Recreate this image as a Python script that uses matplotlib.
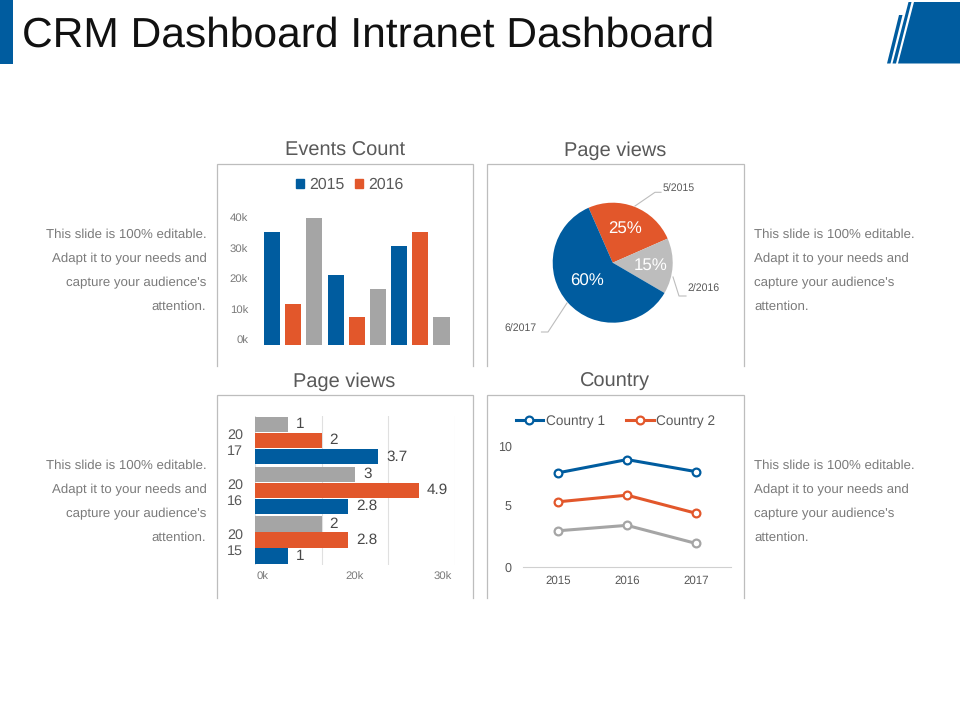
import matplotlib
matplotlib.use("Agg")
import matplotlib.pyplot as plt
from matplotlib.patches import Polygon, Rectangle, Patch
from matplotlib.lines import Line2D

plt.rcParams['font.family'] = ['Liberation Sans', 'DejaVu Sans']
plt.rcParams['text.hinting'] = 'no_hinting'
plt.rcParams['text.hinting_factor'] = 8

BLUE, ORANGE, GREY, LGREY = '#005C9F', '#E2572B', '#A5A5A5', '#BDBDBD'
TXT, TICK = '#595959', '#7A7A7A'

# ---- data ----
main_title = "CRM Dashboard Intranet Dashboard"
side_lines = ["This slide is 100% editable.", "Adapt it to your needs and",
              "capture your audience's", "attention."]

events_series_1 = [35.7, 22.0, 31.3]
events_series_2 = [13.0, 8.8, 35.7]
events_series_3 = [40.0, 17.7, 8.8]
events_legend = ["2015", "2016"]
events_ticks = ["0k", "10k", "20k", "30k", "40k"]

pie_labels = ["5/2015", "2/2016", "6/2017"]
pie_values = [25, 15, 60]

hbar_years = ["20\n15", "20\n16", "20\n17"]
hbar_blue = [1, 2.8, 3.7]
hbar_orange = [2.8, 4.9, 2]
hbar_grey = [2, 3, 1]
hbar_xticklabels = ["0k", "20k", "30k"]

line_years = ["2015", "2016", "2017"]
country_1 = [7.8, 8.9, 7.9]
country_2 = [5.4, 5.95, 4.45]
country_3 = [3.0, 3.45, 1.95]

W, H = 960, 720
fig = plt.figure(figsize=(9.6, 7.2), dpi=100, facecolor='white')

def axes_px(x0, y0, x1, y1):
    """axes from pixel box, y measured from the top"""
    a = fig.add_axes([x0 / W, 1 - y1 / H, (x1 - x0) / W, (y1 - y0) / H])
    a.patch.set_alpha(0)
    return a

# ---- overlay in pixel coordinates ----
bg = axes_px(0, 0, W, H)
bg.set_xlim(0, W)
bg.set_ylim(H, 0)
bg.axis('off')

bg.add_patch(Rectangle((0, 0), 13, 63.5, color=BLUE, lw=0))
bg.add_patch(Polygon([(898, 63.5), (914, 2), (960, 2), (960, 63.5)], color=BLUE, lw=0))
bg.add_patch(Polygon([(892.5, 63.5), (896, 63.5), (911.5, 2), (908.5, 2)], color=BLUE, lw=0))
bg.add_patch(Polygon([(887, 63.5), (890.5, 63.5), (902.5, 15), (899, 15)], color=BLUE, lw=0))
bg.text(21.5, 46.5, main_title, fontsize=30.6, color='#111111', va='baseline', ha='left')

for x0, x1, top, bottom in [(217, 473, 164, 366), (487, 743.5, 164, 366),
                            (217, 473, 395, 598), (487, 743.5, 395, 598)]:
    bg.plot([x0, x0, x1, x1], [bottom, top, top, bottom], color=LGREY, lw=0.9,
            solid_joinstyle='miter')

for x, y, s in [(345, 156, "Events Count"), (615, 156, "Page views"),
                (344.5, 387, "Page views"), (615, 387, "Country")]:
    bg.text(x, y, s, fontsize=14.4, color=TXT, ha='center', va='baseline')

for ytop in (235, 466):
    for i, s in enumerate(side_lines):
        y = ytop + 24 * i
        bg.text(206.5, y, s, fontsize=9.5, color=TICK, ha='right', va='center')
        bg.text(754, y, s, fontsize=9.5, color=TICK, ha='left', va='center')

# ---- Events Count ----
ax = axes_px(261.4, 218.3, 452.1, 345)
for s, (vals, col) in enumerate([(events_series_1, BLUE), (events_series_2, ORANGE),
                                 (events_series_3, GREY)]):
    ax.bar([c * 3 + s for c in range(len(vals))], vals, width=0.76, color=col, lw=0)
ax.set_xlim(-0.5, 8.5)
ax.set_ylim(0, 40)
for sp in ax.spines.values():
    sp.set_visible(False)
ax.set_xticks([])
ax.set_yticks([1.6, 11.2, 20.8, 30.4, 40], events_ticks, fontsize=8.2, color=TICK)
ax.tick_params(axis='y', length=0, pad=9.5)
leg = bg.legend(handles=[Patch(color=BLUE, label=events_legend[0]),
                         Patch(color=ORANGE, label=events_legend[1])],
                loc='center', bbox_to_anchor=(349.5, 185), bbox_transform=bg.transData,
                frameon=False, fontsize=11.4, labelcolor=TXT, ncol=2, handlelength=0.55,
                handleheight=0.55, handletextpad=0.3, columnspacing=0.65, borderpad=0,
                borderaxespad=0)
bg.add_artist(leg)

# ---- pie ----
ax = axes_px(552.7, 202.7, 672.7, 322.7)
wedges, _ = ax.pie(pie_values, colors=[ORANGE, LGREY, BLUE], startangle=113.7,
                   counterclock=False, radius=1,
                   wedgeprops=dict(lw=0))
ax.set_xlim(-1, 1)
ax.set_ylim(-1, 1)
for v, (x, y) in zip(pie_values, [(0.205, 0.55), (0.635, -0.05), (-0.435, -0.32)]):
    ax.text(x, y, f"{v}%", color='white', fontsize=12.2, ha='center', va='center')
bg.text(663, 189, pie_labels[0], fontsize=7.6, color=TXT, ha='left', va='center')
bg.text(687.5, 289, pie_labels[1], fontsize=7.6, color=TXT, ha='left', va='center')
bg.text(504, 329, pie_labels[2], fontsize=7.6, color=TXT, ha='left', va='center')
for xs, ys in [([635, 655, 661], [206, 192.3, 192.3]),
               ([673, 679, 686], [277, 296, 296]),
               ([567, 548, 541.5], [303, 332, 332])]:
    bg.plot(xs, ys, color=LGREY, lw=0.8)

# ---- horizontal bars ----
ax = axes_px(254.7, 415.7, 455.3, 565)
h, off = 0.31, 0.323
ypos = list(range(len(hbar_years)))
ax.barh([y - off for y in ypos], hbar_blue, height=h, color=BLUE, lw=0, zorder=3)
ax.barh(ypos, hbar_orange, height=h, color=ORANGE, lw=0, zorder=3)
ax.barh([y + off for y in ypos], hbar_grey, height=h, color=GREY, lw=0, zorder=3)
VAL = '#484848'
for y in ypos:
    ax.text(hbar_blue[y] + 0.24, y - off, str(hbar_blue[y]), va='center', fontsize=11, color=VAL)
    ax.text(hbar_orange[y] + 0.24, y, str(hbar_orange[y]), va='center', fontsize=11, color=VAL)
    ax.text(hbar_grey[y] + 0.24, y + off, str(hbar_grey[y]), va='center', fontsize=11, color=VAL)
ax.set_xlim(0, 6)
ax.set_ylim(-0.5, 2.5)
for sp in ax.spines.values():
    sp.set_visible(False)
for gx in [0, 2, 4, 6]:
    ax.axvline(gx, color='#E0E0E0', lw=0.8, zorder=1)
ax.set_xticks([0.22, 3.0, 5.63], hbar_xticklabels, fontsize=8.2, color=TICK)
ax.set_yticks(ypos, hbar_years, fontsize=10.4, color=TXT, ha='center', linespacing=1.3)
ax.tick_params(axis='x', length=0, pad=5)
ax.tick_params(axis='y', length=0, pad=14)

# ---- lines ----
ax = axes_px(523.3, 446.3, 730.7, 567)
xs = list(range(len(line_years)))
mk = dict(marker='o', ms=5.6, mfc='white', mew=1.6, lw=2.2)
l1, = ax.plot(xs, country_1, color=BLUE, label="Country 1", **mk)
l2, = ax.plot(xs, country_2, color=ORANGE, label="Country 2", **mk)
ax.plot(xs, country_3, color=GREY, **mk)
ax.set_xlim(-0.5, 2.5)
ax.set_ylim(0, 10)
for name in ('top', 'right', 'left'):
    ax.spines[name].set_visible(False)
ax.spines['bottom'].set_color('#D0D0D0')
ax.spines['bottom'].set_linewidth(0.8)
ax.set_xticks(xs, line_years, fontsize=8.3, color=TXT)
ax.set_yticks([0, 5, 10], ["0", "5", "10"], fontsize=9, color=TXT)
ax.tick_params(axis='x', length=0, pad=6)
ax.tick_params(axis='y', length=0, pad=8.5)
bg.legend(handles=[l1, l2], loc='center', bbox_to_anchor=(615.5, 421),
          bbox_transform=bg.transData, frameon=False, fontsize=9.8, labelcolor=TXT,
          ncol=2, handlelength=2.0, handletextpad=0.2, columnspacing=1.6, borderpad=0,
          borderaxespad=0)

fig.savefig("out.png", dpi=100, facecolor='white')
